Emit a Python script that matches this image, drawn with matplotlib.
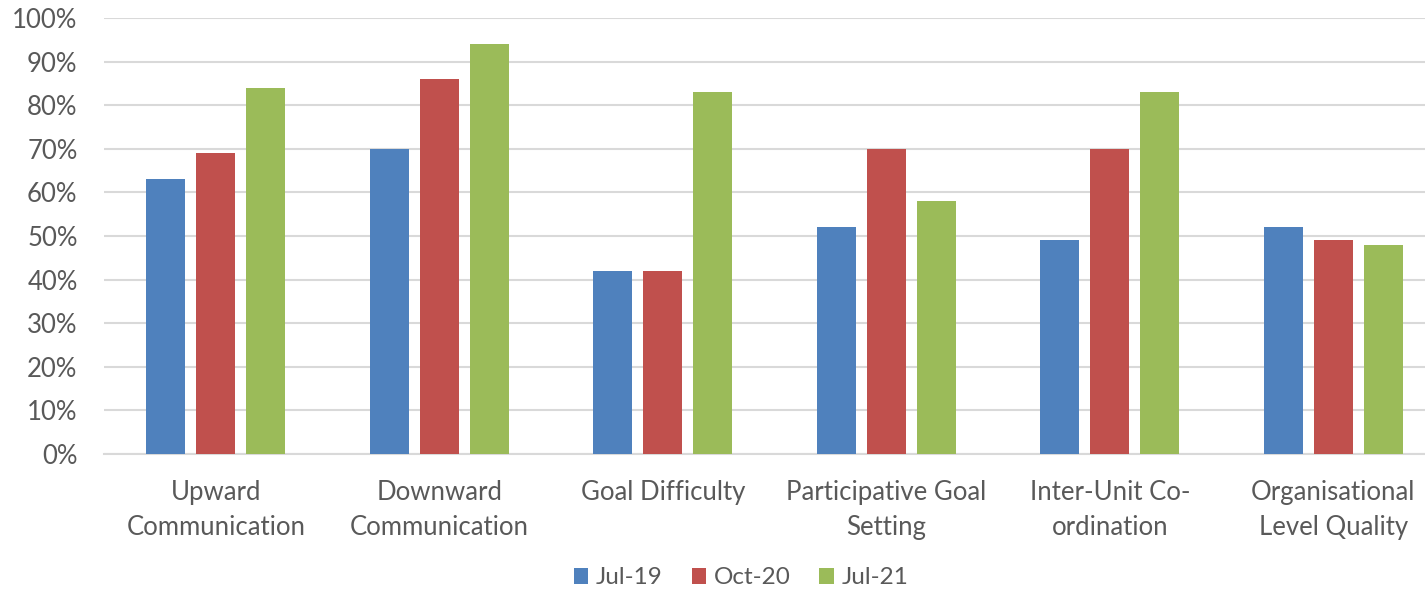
import matplotlib
matplotlib.use('Agg')
import matplotlib.pyplot as plt
import numpy as np
from matplotlib.ticker import PercentFormatter

categories = ['Upward\nCommunication', 'Downward\nCommunication', 'Goal Difficulty',
              'Participative Goal\nSetting', 'Inter-Unit Co-\nordination',
              'Organisational\nLevel Quality']
jul19 = [63, 70, 42, 52, 49, 52]
oct20 = [69, 86, 42, 70, 70, 49]
jul21 = [84, 94, 83, 58, 83, 48]
series = ['Jul-19', 'Oct-20', 'Jul-21']
colors = ['#4F81BD', '#C0504D', '#9BBB59']

plt.rcParams['font.family'] = ['Lato', 'DejaVu Sans']
txt = '#595959'

fig = plt.figure(figsize=(14.25, 5.92), dpi=100)
ax = fig.add_axes([104/1425, 138/592, 1341/1425, 436/592])

x = np.arange(len(categories))
w = 0.175
step = 0.224
for i, (vals, name) in enumerate(zip([jul19, oct20, jul21], series)):
    ax.bar(x + (i - 1) * step, vals, w, color=colors[i], label=name, zorder=3)

ax.set_xlim(-0.5, len(categories) - 0.5)
ax.set_ylim(0, 100)
ax.set_yticks(range(0, 101, 10))
ax.yaxis.set_major_formatter(PercentFormatter(decimals=0))
ax.set_xticks(x)
ax.set_xticklabels(categories, fontsize=18.5, color=txt, linespacing=1.5)
ax.tick_params(axis='y', labelsize=18.5, labelcolor=txt, length=0, pad=19)
ax.tick_params(axis='x', length=0, pad=19)
ax.grid(axis='y', color='#D9D9D9', linewidth=1.5, zorder=0)
for s in ['top', 'right', 'left']:
    ax.spines[s].set_visible(False)
ax.spines['bottom'].set_color('#D9D9D9')
ax.spines['bottom'].set_linewidth(1.5)

leg = fig.legend(loc='center', bbox_to_anchor=(741/1425, 1 - 578/592), ncol=3,
                 frameon=False, fontsize=17.5, handlelength=0.6, handleheight=0.6,
                 handletextpad=0.3, columnspacing=1.2)
for t in leg.get_texts():
    t.set_color(txt)

fig.savefig('out.png', dpi=100)
